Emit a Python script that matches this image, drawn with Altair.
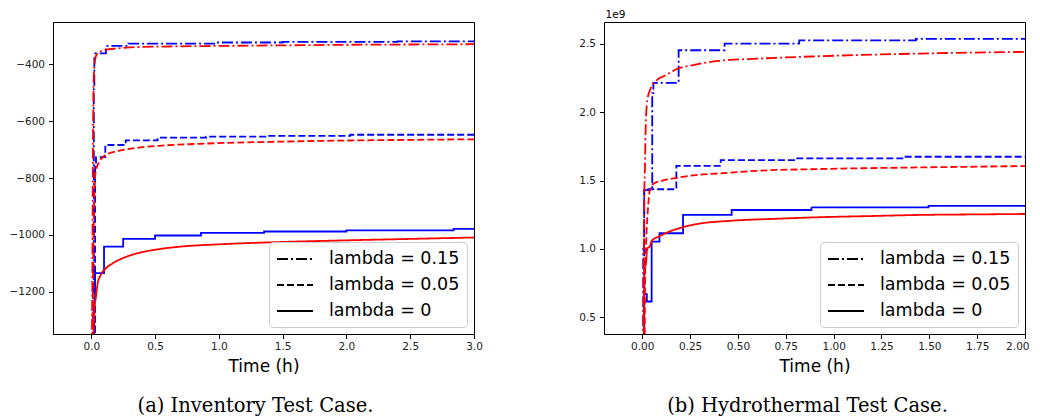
import altair as alt
import pandas as pd

# ---------------- data ----------------
LAMBDAS = ["lambda = 0.15", "lambda = 0.05", "lambda = 0"]

# Inventory test case (left)
INV_BLUE_015_T = [0.0, 0.02, 0.024, 0.03, 0.115, 0.29, 0.98, 1.5, 2.4, 3.0]
INV_BLUE_015_V = [-1400, -480, -380, -362, -336, -328, -324, -322, -320, -320]
INV_BLUE_005_T = [0.0, 0.03, 0.037, 0.11, 0.27, 0.52, 0.9, 1.38, 2.03, 3.0]
INV_BLUE_005_V = [-1400, -760, -727, -684, -668, -658, -655, -652, -648, -648]
INV_BLUE_0_T = [0.0, 0.024, 0.03, 0.1, 0.25, 0.5, 0.86, 1.355, 2.0, 2.84, 3.0]
INV_BLUE_0_V = [-1400, -1230, -1134, -1041, -1014, -1002, -993, -988, -984, -979, -979]

INV_RED_015_T = [0.005, 0.01, 0.013, 0.017, 0.022, 0.03, 0.04, 0.063, 0.115, 0.2, 0.3, 0.6, 1.0, 1.5, 2.0, 2.5, 3.0]
INV_RED_015_V = [-1400, -1000, -700, -500, -420, -385, -368, -358, -349, -345, -341, -338, -336, -334, -332, -331, -330]
INV_RED_005_T = [0.01, 0.015, 0.022, 0.03, 0.037, 0.063, 0.115, 0.22, 0.376, 0.53, 0.9, 1.4, 1.9, 2.5, 3.0]
INV_RED_005_V = [-1400, -1100, -900, -800, -772, -743, -719, -704, -693, -687, -679, -673, -669, -666, -664]
INV_RED_0_T = [0.015, 0.025, 0.037, 0.05, 0.075, 0.115, 0.167, 0.245, 0.376, 0.53, 0.7, 1.0, 1.4, 1.9, 2.5, 3.0]
INV_RED_0_V = [-1400, -1260, -1217, -1170, -1140, -1117, -1100, -1082, -1063, -1050, -1041, -1033, -1026, -1020, -1014, -1009]

# Hydrothermal test case (right), values in 1e9
HYD_BLUE_015_T = [0.0, 0.005, 0.01, 0.052, 0.058, 0.19, 0.43, 0.82, 1.43, 2.0]
HYD_BLUE_015_V = [0.3, 1.0, 1.43, 2.14, 2.215, 2.454, 2.503, 2.527, 2.537, 2.537]
HYD_BLUE_005_T = [0.0, 0.01, 0.178, 0.41, 0.8, 1.37, 2.0]
HYD_BLUE_005_V = [0.3, 1.436, 1.608, 1.65, 1.662, 1.674, 1.674]
HYD_BLUE_0_T = [0.0, 0.01, 0.024, 0.049, 0.09, 0.213, 0.467, 0.884, 1.496, 2.0]
HYD_BLUE_0_V = [0.3, 0.668, 0.614, 1.053, 1.114, 1.248, 1.284, 1.304, 1.314, 1.314]

HYD_RED_015_T = [0.005, 0.008, 0.01, 0.014, 0.017, 0.026, 0.044, 0.087, 0.122, 0.175, 0.26, 0.40, 0.61, 0.92, 1.45, 2.0]
HYD_RED_015_V = [0.3, 0.9, 1.36, 1.6, 1.845, 2.088, 2.174, 2.247, 2.271, 2.313, 2.344, 2.376, 2.393, 2.41, 2.43, 2.442]
HYD_RED_005_T = [0.012, 0.015, 0.02, 0.03, 0.04, 0.061, 0.105, 0.183, 0.28, 0.4, 0.61, 0.92, 1.45, 2.0]
HYD_RED_005_V = [0.3, 0.8, 1.04, 1.3, 1.43, 1.479, 1.5, 1.52, 1.54, 1.552, 1.572, 1.584, 1.596, 1.606]
HYD_RED_0_T = [0.008, 0.01, 0.012, 0.018, 0.026, 0.04, 0.05, 0.087, 0.14, 0.21, 0.28, 0.47, 0.7, 0.92, 1.2, 1.45, 1.75, 2.0]
HYD_RED_0_V = [0.3, 0.6, 0.87, 0.88, 1.0, 1.02, 1.06, 1.09, 1.125, 1.157, 1.18, 1.206, 1.22, 1.231, 1.24, 1.248, 1.252, 1.255]

INV_X_TICKS = [0.0, 0.5, 1.0, 1.5, 2.0, 2.5, 3.0]
INV_Y_TICKS = [-1200, -1000, -800, -600, -400]
HYD_X_TICKS = [0.0, 0.25, 0.5, 0.75, 1.0, 1.25, 1.5, 1.75, 2.0]
HYD_Y_TICKS = [0.5, 1.0, 1.5, 2.0, 2.5]


def frame(series):
    rows = []
    for color, lam, ts, vs in series:
        for t, v in zip(ts, vs):
            rows.append({"t": t, "v": v, "lam": lam, "src": color})
    return pd.DataFrame(rows)


inv_df = frame([
    ("blue", LAMBDAS[0], INV_BLUE_015_T, INV_BLUE_015_V),
    ("blue", LAMBDAS[1], INV_BLUE_005_T, INV_BLUE_005_V),
    ("blue", LAMBDAS[2], INV_BLUE_0_T, INV_BLUE_0_V),
    ("red", LAMBDAS[0], INV_RED_015_T, INV_RED_015_V),
    ("red", LAMBDAS[1], INV_RED_005_T, INV_RED_005_V),
    ("red", LAMBDAS[2], INV_RED_0_T, INV_RED_0_V),
])
hyd_df = frame([
    ("blue", LAMBDAS[0], HYD_BLUE_015_T, HYD_BLUE_015_V),
    ("blue", LAMBDAS[1], HYD_BLUE_005_T, HYD_BLUE_005_V),
    ("blue", LAMBDAS[2], HYD_BLUE_0_T, HYD_BLUE_0_V),
    ("red", LAMBDAS[0], HYD_RED_015_T, HYD_RED_015_V),
    ("red", LAMBDAS[1], HYD_RED_005_T, HYD_RED_005_V),
    ("red", LAMBDAS[2], HYD_RED_0_T, HYD_RED_0_V),
])

W, H = 421, 312
dash_scale = alt.Scale(domain=LAMBDAS, range=[[11, 3, 2, 3], [7, 3], [1, 0]])


def legend():
    return alt.Legend(
        orient="none", legendX=216, legendY=220, title=None,
        labelFont="DejaVu Sans", labelFontSize=17.5, labelColor="black",
        symbolType="M-2,0L2,0", symbolSize=324, symbolStrokeWidth=2,
        symbolStrokeColor="black", symbolOffset=9, labelOffset=24,
        rowPadding=7, padding=7, strokeColor="#cccccc",
        fillColor="rgba(255,255,255,0.85)", cornerRadius=4, labelLimit=300,
    )


def panel(df, xdom, ydom, xticks, yticks, xfmt, yaxis_title, caption, dx, flush):
    yaxis_kwargs = dict(values=yticks, format=".1f" if yaxis_title else "d",
                        labelExpr="replace(datum.label, '-', '\u2212')",
                        labelPadding=4)
    if yaxis_title:
        yaxis_kwargs.update(title=yaxis_title, titleAngle=0, titleAlign="left",
                            titleBaseline="alphabetic", titleX=1, titleY=-5,
                            titleFontSize=10.5, titleFontWeight="normal")
    else:
        yaxis_kwargs.update(title=None)
    xaxis_kwargs = dict(values=xticks, format=xfmt, title="Time (h)",
                        labelOverlap=False, labelPadding=3)
    if flush:
        xaxis_kwargs.update(labelFlush=1, labelFlushOffset=4)
    else:
        xaxis_kwargs.update(labelFlush=False)
    x = alt.X("t:Q", scale=alt.Scale(domain=xdom, nice=False, zero=False),
              axis=alt.Axis(**xaxis_kwargs))
    y = alt.Y("v:Q", scale=alt.Scale(domain=ydom, nice=False, zero=False),
              axis=alt.Axis(**yaxis_kwargs))
    dash = alt.StrokeDash("lam:N", scale=dash_scale, legend=legend())
    base = alt.Chart(df).encode(x=x, y=y, strokeDash=dash)
    blue = base.transform_filter(alt.datum.src == "blue").mark_line(
        interpolate="step-after", color="#0000ff", strokeWidth=1.8, clip=True)
    red = base.transform_filter(alt.datum.src == "red").mark_line(
        interpolate="monotone", color="#ff0000", strokeWidth=1.8, clip=True)
    return alt.layer(blue, red).properties(
        width=W, height=H,
        title=alt.TitleParams(caption, orient="bottom", anchor="middle",
                              font="DejaVu Serif", fontSize=19.5,
                              fontWeight="normal", color="black",
                              offset=23, dx=dx),
    )


left = panel(inv_df, [-0.3, 3.0], [-1348, -252], INV_X_TICKS, INV_Y_TICKS,
             ".1f", None, "(a) Inventory Test Case.", -8, False)
right = panel(hyd_df, [-0.2, 2.0], [0.376, 2.661], HYD_X_TICKS, HYD_Y_TICKS,
              ".2f", "1e9", "(b) Hydrothermal Test Case.", -7, True)

chart = alt.hconcat(left, right, spacing=130, bounds="flush").resolve_legend(
    strokeDash="independent"
).properties(padding=0).configure_view(
    stroke="black", strokeWidth=1
).configure_axis(
    grid=False, domainColor="black", tickColor="black", tickSize=4.5,
    labelFont="DejaVu Sans", labelFontSize=10.5,
    labelColor="#222222", titleFont="DejaVu Sans", titleFontSize=17,
    titleFontWeight="normal", titleColor="black", titlePadding=6,
)

chart.save("out.html", embed_options={"renderer": "svg", "actions": False})
